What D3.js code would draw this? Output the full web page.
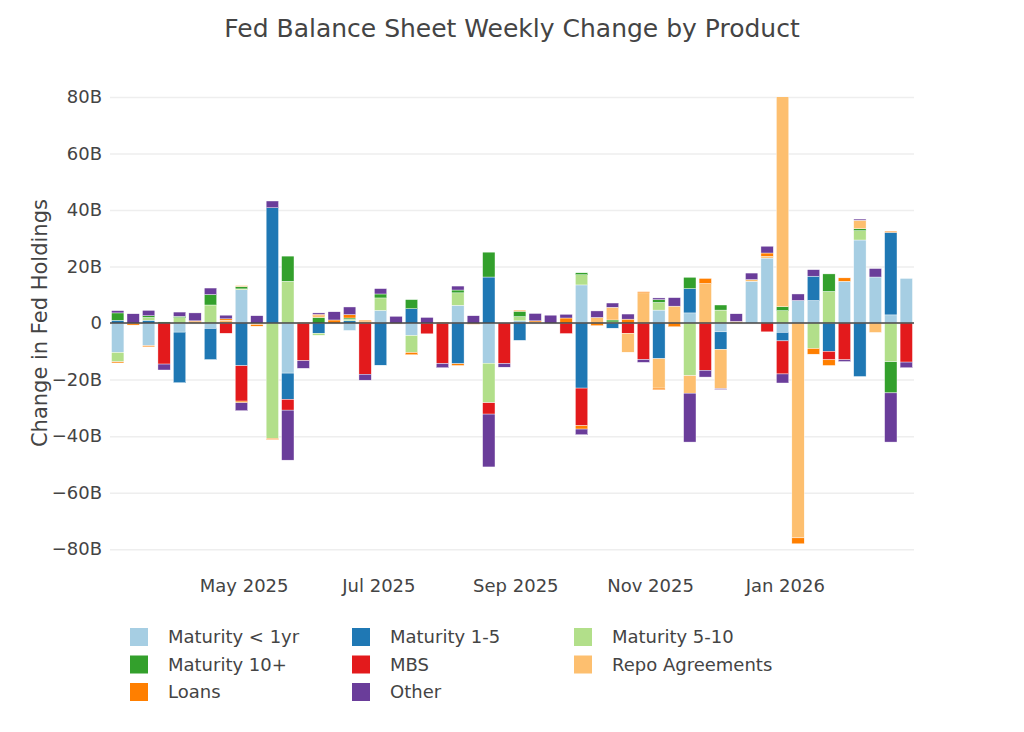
<!DOCTYPE html>
<html lang="en">
	<head>
		<meta charset="utf-8">
		<title>Fed Balance Sheet Weekly Change by Product</title>
		<script type="text/javascript" src="https://d3js.org/d3.v7.min.js"></script>
		<style type="text/css">
			body{
				margin: 0;
				background: #fff;
			}
			text{
				font-family: "DejaVu Sans", Verdana, sans-serif;
				fill: #444;
			}
		</style>
	</head>
	<body>
		<script type="text/javascript">

			//Width and height
			var w = 1024;
			var h = 732;
			var margin = {left: 110, right: 110, top: 97, bottom: 180};

			//Weekly dates (Wednesdays)
			var dates = [
				"2025-03-05", "2025-03-12", "2025-03-19", "2025-03-26",
				"2025-04-02", "2025-04-09", "2025-04-16", "2025-04-23", "2025-04-30",
				"2025-05-07", "2025-05-14", "2025-05-21", "2025-05-28",
				"2025-06-04", "2025-06-11", "2025-06-18", "2025-06-25",
				"2025-07-02", "2025-07-09", "2025-07-16", "2025-07-23", "2025-07-30",
				"2025-08-06", "2025-08-13", "2025-08-20", "2025-08-27",
				"2025-09-03", "2025-09-10", "2025-09-17", "2025-09-24",
				"2025-10-01", "2025-10-08", "2025-10-15", "2025-10-22", "2025-10-29",
				"2025-11-05", "2025-11-12", "2025-11-19", "2025-11-26",
				"2025-12-03", "2025-12-10", "2025-12-17", "2025-12-24", "2025-12-31",
				"2026-01-07", "2026-01-14", "2026-01-21", "2026-01-28",
				"2026-02-04", "2026-02-11", "2026-02-18", "2026-02-25"
			];

			//Weekly change, billions of dollars
			var maturityLt1 = [
				-10.4, 0, -8.0, 0, -3.2, 0, -1.9, 0, 11.8, 0,
				0, -17.7, 0, 0, 0, -2.6, 0, 4.5, 0, -4.4,
				0, 0, 6.3, 0, -14.2, 0, 0.8, 0, 0, 0,
				13.5, 0, 0, 0, 0, 4.6, 0, 3.6, 0, -3.1,
				0, 14.8, 23.0, -3.3, 8.0, 8.0, 0, 14.8, 29.4, 16.3,
				2.9, 15.8
			];
			var maturity1to5 = [
				1.0, 0, 1.0, 0, -17.9, 0, -11.0, 0, -15.1, 0,
				40.8, -9.3, 0, -3.6, 0, 0.8, 0, -14.9, 0, 5.1,
				0, 0, -14.4, 0, 16.3, 0, -6.1, 0, 0, 0,
				-23.0, 0, -1.8, 0, 0, -12.6, 0, 8.6, 0, -6.2,
				0, 0, 0, -3.0, 0, 8.6, -10.0, 0, -18.9, 0,
				29.2, 0
			];
			var maturity5to10 = [
				-3.3, 0, 1.0, 0, 1.9, 0, 6.4, 0, 0.3, 0,
				-40.8, 14.8, 0, -0.7, 0, 0.5, 0, 4.4, 0, -6.0,
				0, 0, 4.4, 0, -14.0, 0, 1.5, 0, 0, 0,
				3.6, 0, 0.4, 0, 0, 2.7, 0, -18.6, 0, 4.6,
				0, 0, 0, 4.4, 0, -9.0, 11.2, 0, 3.3, 0,
				-13.7, 0
			];
			var maturity10plus = [
				2.6, 0, 0.6, 0.4, 0.5, 0, 3.7, 0, 0.8, 0,
				0, 8.9, 0, 2.0, 0, 0.5, 0, 1.4, 0, 3.2,
				0, 0, 1.0, 0, 8.8, 0, 1.9, 0, 0, 0,
				0.7, 0, 0.7, 0, 0, 1.0, 0, 4.0, 0, 1.8,
				0, 0, 0, 1.4, 0, 0, 6.2, 0, 0.7, 0,
				-11.0, 0
			];
			var mbs = [
				0, 0, 0, -14.5, 0, 0, 0, -3.6, -12.5, 0,
				0, -3.8, -13.3, 0, 0, 0, -18.1, 0, 0, 0,
				-3.8, -14.3, 0, 0, -4.0, -14.3, 0, 0, 0, -3.7,
				-13.3, 0, 0, -3.6, -12.9, 0, 0, 0, -16.7, 0,
				0, 0, -3.1, -11.7, 0, 0, -3.0, -13.0, 0, 0,
				0, -13.8
			];
			var repo = [
				0, 0, 0, 0, 0, 0.5, 0, 1.0, 0.4, -0.5,
				0, 0, 0, 0.6, 0, 0, 0.5, 0, 0, 0,
				0, 0, 0, 0, 0, 0, 0, 0.4, 0, 0,
				0, 2.0, 4.5, -6.7, 10.7, -10.4, 6.0, -6.2, 14.0, -13.9,
				0.6, 0.6, 0.6, 75.0, -76.0, 0, 0, 0, 3.0, -3.3,
				0, 0
			];
			var loans = [
				-0.4, -0.7, -0.4, 0, 0, 0.3, 0, 0.5, -0.6, -0.6,
				-0.4, 0, 0.2, 0.5, 1.1, 1.2, 0.5, 0, -0.3, -0.8,
				0, 0.3, -0.6, -0.4, 0, 0, 0.3, 0.4, 0, 1.8,
				-1.2, -0.9, 0, 1.4, 0.4, -0.6, -1.3, 0, 1.8, 0,
				0, 0, 1.2, 0, -2.1, -2.0, -2.0, 1.2, 0, 0,
				0.4, 0
			];
			var other = [
				0.8, 3.3, 1.9, -2.1, 1.5, 2.8, 2.3, 1.3, -2.8, 2.6,
				2.4, -17.7, -2.7, 0.5, 2.9, 2.7, -2.1, 1.9, 2.4, 0,
				2.0, -1.5, 1.4, 2.6, -18.7, -1.3, 0, 2.6, 2.8, 1.3,
				-2.0, 2.3, 1.5, 1.8, -1.0, 0.6, 3.0, -17.3, -2.4, -0.3,
				2.7, 2.3, 2.4, -3.2, 2.3, 2.3, 0, -0.6, 0.4, 3.0,
				-17.4, -2.0
			];

			var seriesNames = ["Maturity < 1yr", "Maturity 1-5", "Maturity 5-10", "Maturity 10+",
			                   "MBS", "Repo Agreements", "Loans", "Other"];
			var seriesValues = [maturityLt1, maturity1to5, maturity5to10, maturity10plus,
			                    mbs, repo, loans, other];
			var colors = ["#a6cee3", "#1f78b4", "#b2df8a", "#33a02c",
			              "#e31a1c", "#fdbf6f", "#ff7f00", "#6a3d9a"];
			var yTicks = [-80, -60, -40, -20, 0, 20, 40, 60, 80];

			//Build rows for d3.stack
			var parseDate = d3.timeParse("%Y-%m-%d");
			var rows = dates.map(function(d, i) {
				var row = {date: parseDate(d)};
				seriesNames.forEach(function(name, k) {
					row[name] = seriesValues[k][i];
				});
				return row;
			});

			var stacked = d3.stack()
							.keys(seriesNames)
							.offset(d3.stackOffsetDiverging)(rows);

			//Create scale functions
			var x0 = rows[0].date;
			var x1 = rows[rows.length - 1].date;
			var xScale = d3.scaleTime()
							.domain([d3.timeHour.offset(x0, -84), d3.timeHour.offset(x1, 84)])
							.range([margin.left, 914]);

			var yScale = d3.scaleLinear()
							.domain([-81, 80])
							.range([h - margin.bottom, margin.top]);

			var barWidth = (xScale(d3.timeDay.offset(x0, 7)) - xScale(x0)) * 0.8;

			//Create SVG element
			var svg = d3.select("body")
						.append("svg")
						.attr("width", w)
						.attr("height", h);

			svg.append("defs")
			   .append("clipPath")
			   .attr("id", "plot-clip")
			   .append("rect")
			   .attr("x", xScale.range()[0])
			   .attr("y", yScale.range()[1])
			   .attr("width", xScale.range()[1] - xScale.range()[0])
			   .attr("height", yScale.range()[0] - yScale.range()[1]);

			//Y axis with gridlines
			var yAxis = d3.axisLeft(yScale)
						  .tickValues(yTicks)
						  .tickSize(-(xScale.range()[1] - xScale.range()[0]))
						  .tickPadding(8)
						  .tickFormat(function(v) {
						  	if (v === 0) return "0";
						  	return (v < 0 ? "\u2212" : "") + Math.abs(v) + "B";
						  });

			var gy = svg.append("g")
						.attr("transform", "translate(" + margin.left + ",0)")
						.call(yAxis);
			gy.select(".domain").remove();
			gy.selectAll(".tick line")
			  .attr("stroke", "#eee")
			  .attr("stroke-width", 1.5);
			gy.selectAll(".tick text")
			  .attr("font-size", "18px")
			  .attr("fill", "#444");

			//X axis
			var xAxis = d3.axisBottom(xScale)
						  .ticks(d3.timeMonth.every(2))
						  .tickSize(0)
						  .tickPadding(27)
						  .tickFormat(d3.timeFormat("%b %Y"));

			var gx = svg.append("g")
						.attr("transform", "translate(0," + yScale.range()[0] + ")")
						.call(xAxis);
			gx.select(".domain").remove();
			gx.selectAll(".tick text")
			  .attr("font-size", "18px")
			  .attr("fill", "#444");

			//Create bars
			var layers = svg.append("g")
							.attr("clip-path", "url(#plot-clip)")
							.selectAll("g")
							.data(stacked)
							.enter()
							.append("g")
							.attr("fill", function(d, i) { return colors[i]; });

			layers.selectAll("rect")
				  .data(function(d) { return d; })
				  .enter()
				  .append("rect")
				  .attr("x", function(d) { return xScale(d.data.date) - barWidth / 2; })
				  .attr("y", function(d) { return yScale(Math.max(d[0], d[1])); })
				  .attr("width", barWidth)
				  .attr("height", function(d) {
				  	return Math.abs(yScale(d[0]) - yScale(d[1]));
				  })
				  .attr("stroke", "#fff")
				  .attr("stroke-width", 0.4);

			//Zero line
			svg.append("line")
			   .attr("x1", xScale.range()[0])
			   .attr("x2", xScale.range()[1])
			   .attr("y1", yScale(0))
			   .attr("y2", yScale(0))
			   .attr("stroke", "#444")
			   .attr("stroke-width", 1.5);

			//Title
			svg.append("text")
			   .attr("x", w / 2)
			   .attr("y", 37)
			   .attr("text-anchor", "middle")
			   .attr("font-size", "25px")
			   .text("Fed Balance Sheet Weekly Change by Product");

			//Y axis title
			svg.append("text")
			   .attr("transform", "translate(47," + yScale(0) + ") rotate(-90)")
			   .attr("text-anchor", "middle")
			   .attr("font-size", "21px")
			   .text("Change in Fed Holdings");

			//Legend
			var legend = svg.append("g")
							.selectAll("g")
							.data(seriesNames)
							.enter()
							.append("g")
							.attr("transform", function(d, i) {
								return "translate(" + (130 + (i % 3) * 222) + "," + (637 + Math.floor(i / 3) * 27.5) + ")";
							});

			legend.append("rect")
				  .attr("x", 0)
				  .attr("y", -9)
				  .attr("width", 18)
				  .attr("height", 18)
				  .attr("fill", function(d, i) { return colors[i]; });

			legend.append("text")
				  .attr("x", 38)
				  .attr("y", 0)
				  .attr("dy", "0.35em")
				  .attr("font-size", "18px")
				  .text(function(d) { return d; });

		</script>
	</body>
</html>
